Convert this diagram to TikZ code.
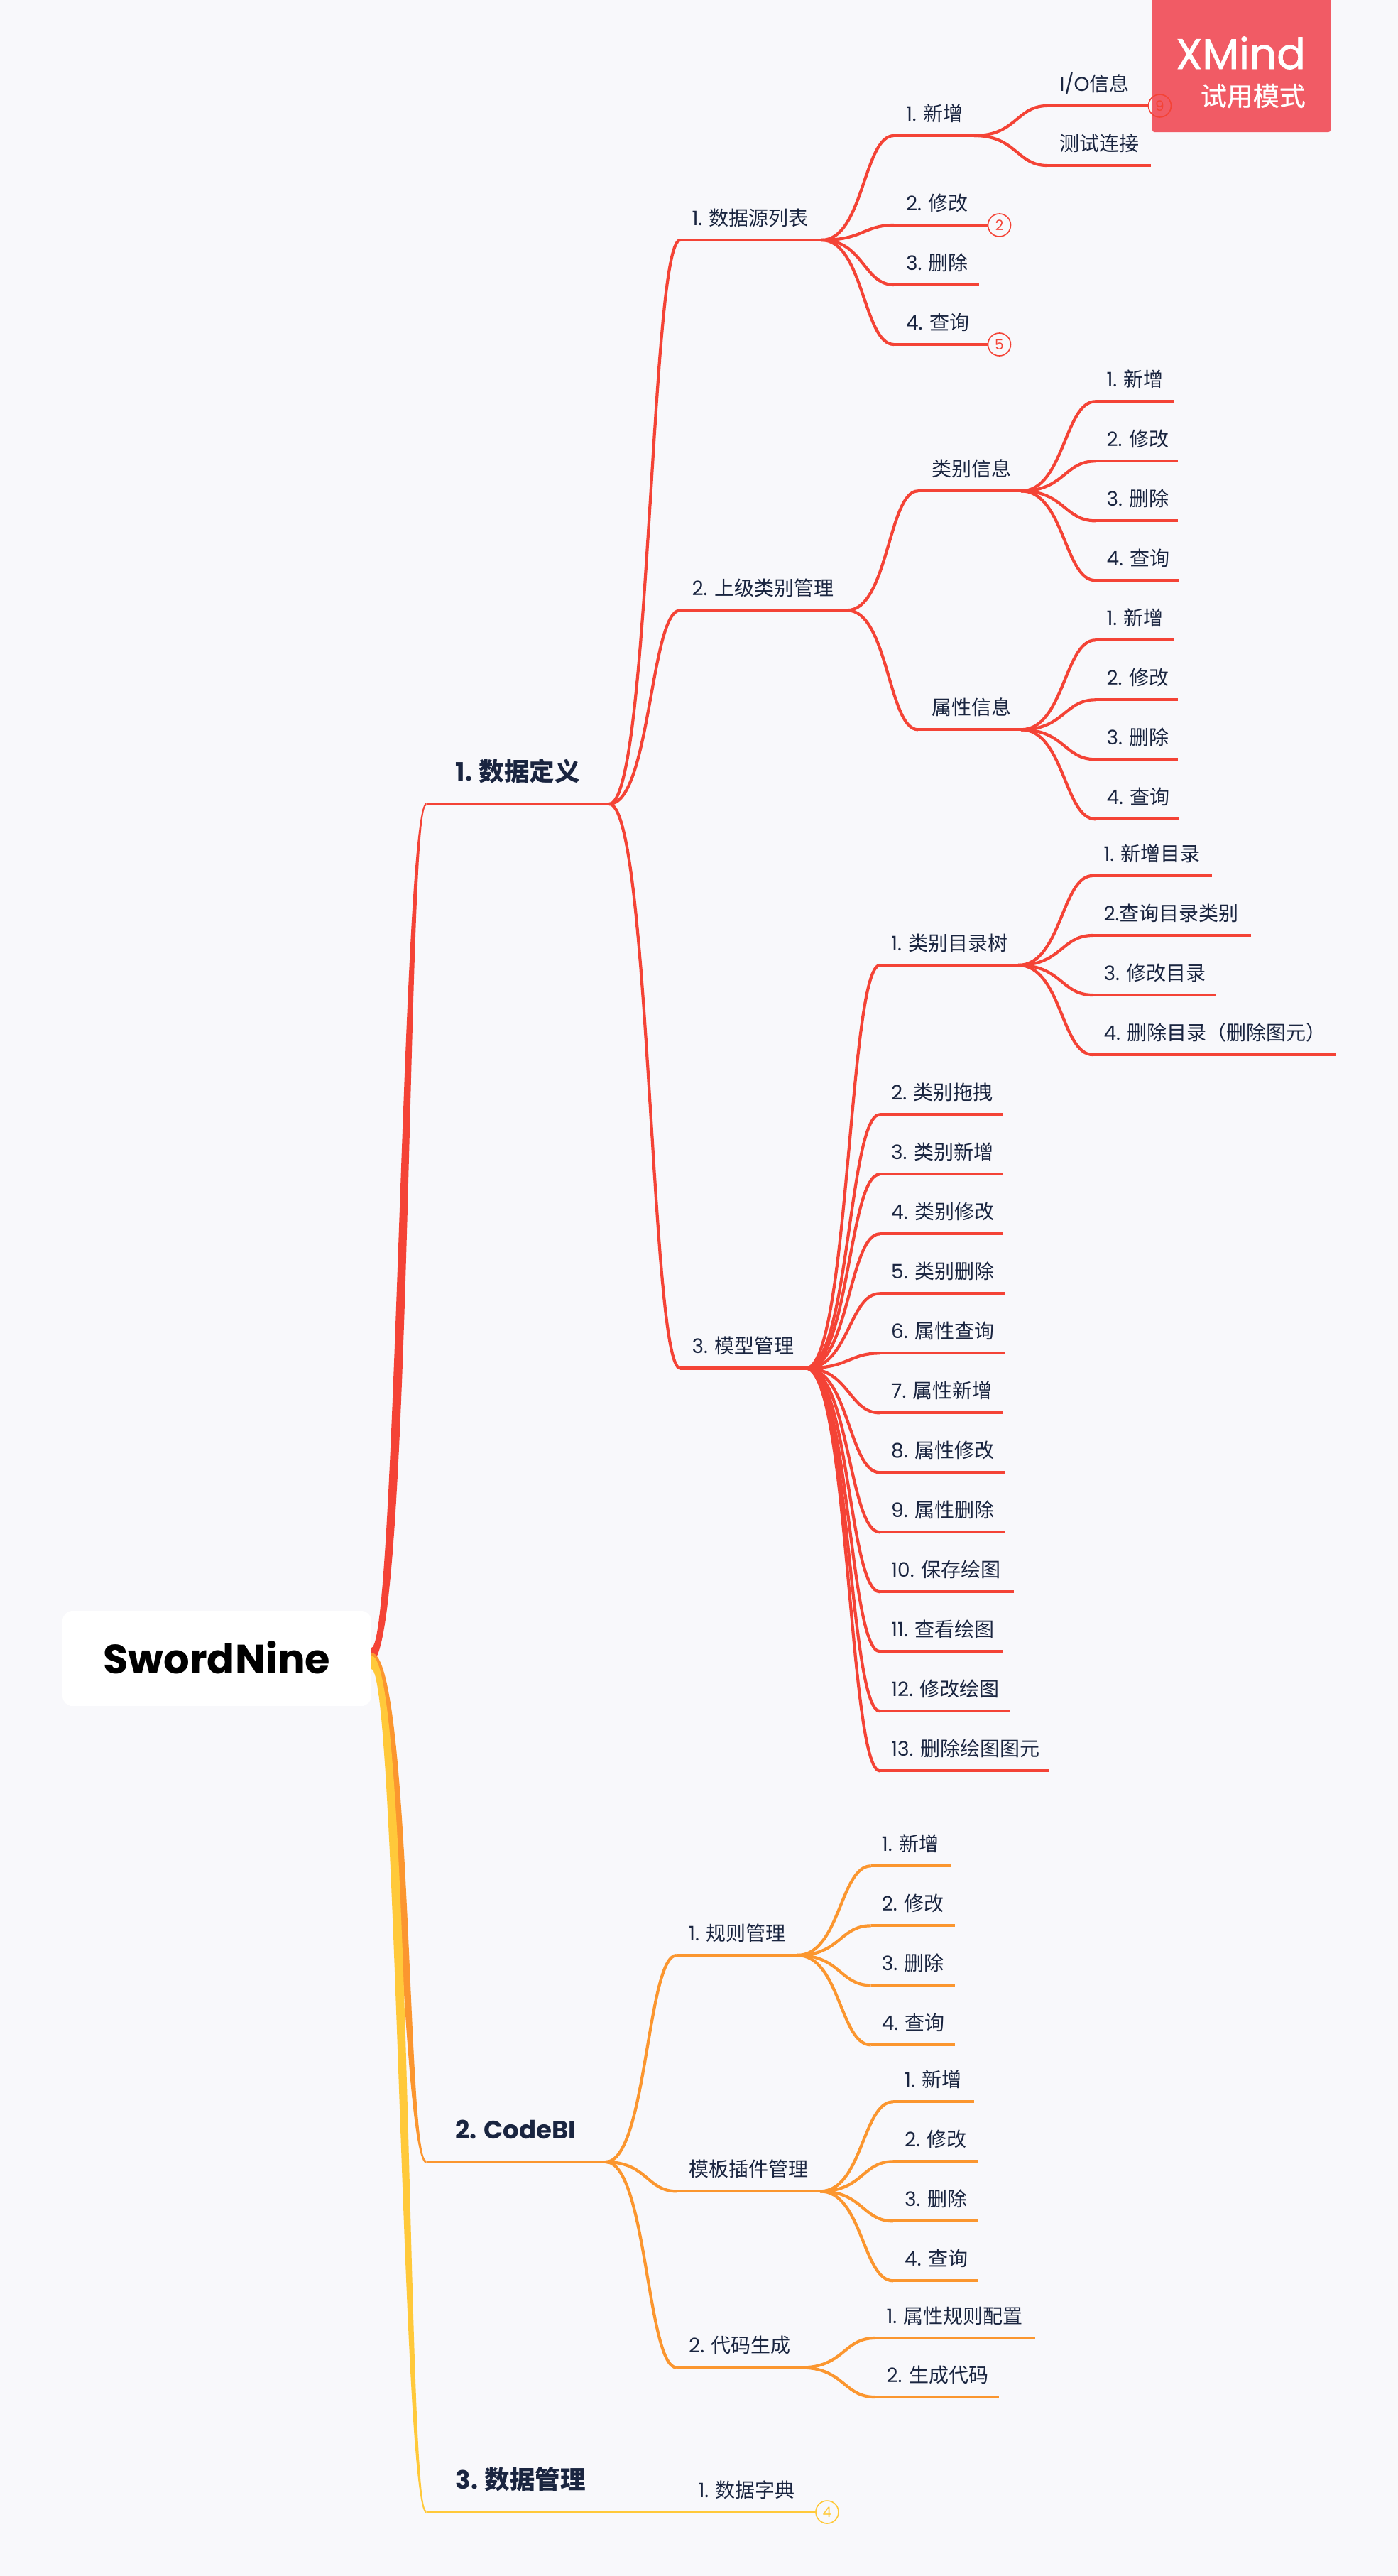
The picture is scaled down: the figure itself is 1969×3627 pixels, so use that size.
\documentclass[tikz,border=0pt]{standalone}
\usepackage{fontspec}
\usetikzlibrary{calc}
\setmainfont{Noto Sans CJK SC}
\newfontfamily\lat[WordSpace=0.95]{Poppins}
\newfontfamily\latm[FakeBold=1.2]{Poppins}
\newfontfamily\cjkm[FakeBold=0.6]{Noto Sans CJK SC}
\newcommand{\lf}[1]{{\lat #1}}
\definecolor{bgc}{HTML}{F8F8FB}
\definecolor{inkc}{HTML}{1A2540}
\definecolor{redb}{HTML}{F44336}
\definecolor{orab}{HTML}{FB962F}
\definecolor{yelb}{HTML}{FFC93A}
\definecolor{wmk}{HTML}{F15B65}
\colorlet{br}{redb}
\tikzset{
  lab/.style={anchor=base west,inner sep=0pt,outer sep=0pt,text=inkc,font=\fontsize{28}{32}\selectfont},
  labone/.style={anchor=base west,inner sep=0pt,outer sep=0pt,text=inkc,font=\fontsize{35.5}{40}\selectfont\bfseries},
  rootbox/.style={fill=white,rounded corners=14pt,minimum width=435pt,minimum height=134pt,inner sep=0pt,outer sep=0pt,font=\fontsize{57.5}{64}\selectfont\lat\bfseries,text=black},
  curve/.style={draw=br,line width=4.2pt},
  bar/.style={draw=br,line width=4.2pt},
  badge/.style={circle,draw=br,line width=1.6pt,minimum size=32pt,inner sep=0pt,outer sep=0pt,anchor=west,text=br,font=\fontsize{20}{22}\selectfont\lat}
}
% name, xstart, xend, y, label x, text
\newcommand{\tp}[6]{%
  \coordinate (#1-s) at (#2,#4);
  \coordinate (#1-e) at (#3,#4);
  \node[lab] (#1) at (#5-1.5,#4-21) {#6};
}
\newcommand{\tpone}[6]{%
  \coordinate (#1-s) at (#2,#4);
  \coordinate (#1-e) at (#3,#4);
  \node[labone] (#1) at (#5,#4-33) {#6};
}
\newcommand{\lnk}[2]{%
  \coordinate (mid) at ($(#1-e)!.58!(#2-s)$);
  \draw[curve] (#1-e) .. controls (mid |- #1-e) and (mid |- #2-s) .. (#2-s);
  \draw[bar] (#2-s) -- (#2-e);
}
% colour, target, upper start, lower start, a1, a2
\newcommand{\taper}[6]{%
  \fill[#1] let \p1=(#2-s), \p2=(#3), \p3=(#4) in
    (\p2) .. controls ({\x2+0.6*(\x1-\x2)-(#5)*1pt},\y2) and ({\x2+0.6*(\x1-\x2)-(#6)*1pt},{\y1+2pt}) .. ({\x1},{\y1+2pt})
    -- ({\x1},{\y1-2pt})
    .. controls ({\x2+0.6*(\x1-\x2)+(#6)*1pt},{\y1-2pt}) and ({\x2+0.6*(\x1-\x2)+(#5)*1pt},\y3) .. (\p3) -- cycle;
  \draw[#1,line width=4.2pt] (#2-s) -- (#2-e);
}
\begin{document}
\begin{tikzpicture}[x=1pt,y=-1pt]
\useasboundingbox (0,0) rectangle (1969,3627);
\fill[bgc] (0,0) rectangle (1969,3627);

\node[rootbox] (root) at (305.5,2335) {\raisebox{3pt}{SwordNine}};
\coordinate (rt) at (523,2320); \coordinate (rb) at (523,2340);
\coordinate (ot) at (523,2327); \coordinate (ob) at (523,2346);
\coordinate (yt) at (523,2331); \coordinate (yb) at (523,2350);

% ---------- red branch
\colorlet{br}{redb}
\tpone{a}{600.5}{858}{1132}{641.7}{\lf{\bfseries 1. }数据定义}
\tp{a1}{958}{1157}{338}{976}{\lf{1. }数据源列表}
\tp{a2}{958}{1193}{859.3}{976}{\lf{2. }上级类别管理}
\tp{a3}{958}{1135}{1926.5}{976}{\lf{3. }模型管理}
\tp{a1a}{1259}{1372}{191}{1277.5}{\lf{1. }新增}
\tp{a1a1}{1475}{1617.5}{149}{1494}{\lf{I/O}信息}
\tp{a1a2}{1475}{1621}{233}{1494}{测试连接}
\tp{a1b}{1259}{1391.5}{317}{1277.5}{\lf{2. }修改}
\tp{a1c}{1259}{1379}{401}{1277.5}{\lf{3. }删除}
\tp{a1d}{1259}{1391.5}{485}{1277.5}{\lf{4. }查询}
\tp{a2a}{1293}{1438}{691.3}{1313.5}{类别信息}
\tp{a2b}{1293}{1438}{1027.3}{1313.5}{属性信息}
\tp{a2a1}{1543}{1654}{565.3}{1560}{\lf{1. }新增}
\tp{a2a2}{1543}{1659}{649.3}{1560}{\lf{2. }修改}
\tp{a2a3}{1543}{1659}{733.3}{1560}{\lf{3. }删除}
\tp{a2a4}{1543}{1661}{817.3}{1560}{\lf{4. }查询}
\tp{a2b1}{1543}{1654}{901.3}{1560}{\lf{1. }新增}
\tp{a2b2}{1543}{1659}{985.3}{1560}{\lf{2. }修改}
\tp{a2b3}{1543}{1659}{1069.3}{1560}{\lf{3. }删除}
\tp{a2b4}{1543}{1661}{1153.3}{1560}{\lf{4. }查询}
\tp{t1}{1239.3}{1434}{1359}{1256.7}{\lf{1. }类别目录树}
\tp{t1a}{1539}{1707}{1233}{1556}{\lf{1. }新增目录}
\tp{t1b}{1539}{1762}{1317}{1556}{\lf{2.}查询目录类别}
\tp{t1c}{1539}{1713}{1401}{1556}{\lf{3. }修改目录}
\tp{t1d}{1539}{1882}{1485}{1556}{\lf{4. }删除目录（删除图元）}
\tp{t2}{1239.3}{1413.3}{1569.3}{1256.7}{\lf{2. }类别拖拽}
\tp{t3}{1239.3}{1413.3}{1653.3}{1256.7}{\lf{3. }类别新增}
\tp{t4}{1239.3}{1413.3}{1737.3}{1256.7}{\lf{4. }类别修改}
\tp{t5}{1239.3}{1415.3}{1821.3}{1256.7}{\lf{5. }类别删除}
\tp{t6}{1239.3}{1415.3}{1905.3}{1256.7}{\lf{6. }属性查询}
\tp{t7}{1239.3}{1413.3}{1989.3}{1256.7}{\lf{7. }属性新增}
\tp{t8}{1239.3}{1415.3}{2073.3}{1256.7}{\lf{8. }属性修改}
\tp{t9}{1239.3}{1415.3}{2157.3}{1256.7}{\lf{9. }属性删除}
\tp{t10}{1239.3}{1427.6}{2241.3}{1256.7}{\lf{10. }保存绘图}
\tp{t11}{1239.3}{1413.3}{2325.3}{1256.7}{\lf{11. }查看绘图}
\tp{t12}{1239.3}{1423}{2409.3}{1256.7}{\lf{12. }修改绘图}
\tp{t13}{1239.3}{1478}{2493.3}{1256.7}{\lf{13. }删除绘图图元}

\taper{redb}{a}{rt}{rb}{11}{3.5}
\foreach \c in {a1,a2,a3}{\lnk{a}{\c}}
\foreach \c in {a1a,a1b,a1c,a1d}{\lnk{a1}{\c}}
\foreach \c in {a1a1,a1a2}{\lnk{a1a}{\c}}
\foreach \c in {a2a,a2b}{\lnk{a2}{\c}}
\foreach \c in {a2a1,a2a2,a2a3,a2a4}{\lnk{a2a}{\c}}
\foreach \c in {a2b1,a2b2,a2b3,a2b4}{\lnk{a2b}{\c}}
\foreach \c in {t1,t2,t3,t4,t5,t6,t7,t8,t9,t10,t11,t12,t13}{\lnk{a3}{\c}}
\foreach \c in {t1a,t1b,t1c,t1d}{\lnk{t1}{\c}}

\node[badge] (bb) at (a1b-e) {2};
\node[badge] (bd) at (a1d-e) {5};

% ---------- watermark
\fill[wmk,rounded corners=3pt] (1623,-10) rectangle (1874,186);
\node[anchor=base east,inner sep=0pt,text=white,font=\fontsize{60}{64}\selectfont\latm] (wm1) at (1839,97) {XMind};
\node[anchor=base east,inner sep=0pt,text=white,font=\fontsize{37}{40}\selectfont\cjkm] (wm2) at (1839,149) {试用模式};
\node[badge] (ba) at (a1a1-e) {9};

% ---------- orange branch
\colorlet{br}{orab}
\tpone{b}{600.5}{853}{3044}{641.7}{\lf{\bfseries 2. CodeBI}}
\tp{b1}{953}{1122.7}{2753}{971.7}{\lf{1. }规则管理}
\tp{b2}{953}{1155}{3085.3}{971.7}{模板插件管理}
\tp{b3}{953}{1128}{3333.5}{971.7}{\lf{2. }代码生成}
\tp{b1a}{1226.7}{1339.3}{2627.3}{1243.3}{\lf{1. }新增}
\tp{b1b}{1226.7}{1345}{2711.3}{1243.3}{\lf{2. }修改}
\tp{b1c}{1226.7}{1345}{2795.3}{1243.3}{\lf{3. }删除}
\tp{b1d}{1226.7}{1345}{2879.3}{1243.3}{\lf{4. }查询}
\tp{b2a}{1258}{1371.7}{2959.3}{1275.7}{\lf{1. }新增}
\tp{b2b}{1258}{1377.3}{3043.3}{1275.7}{\lf{2. }修改}
\tp{b2c}{1258}{1377.3}{3127.3}{1275.7}{\lf{3. }删除}
\tp{b2d}{1258}{1377.3}{3211.3}{1275.7}{\lf{4. }查询}
\tp{b3a}{1232}{1458}{3292}{1250}{\lf{1. }属性规则配置}
\tp{b3b}{1232}{1407}{3375}{1250}{\lf{2. }生成代码}
\taper{orab}{b}{ot}{ob}{-11}{-3.5}
\foreach \c in {b1,b2,b3}{\lnk{b}{\c}}
\foreach \c in {b1a,b1b,b1c,b1d}{\lnk{b1}{\c}}
\foreach \c in {b2a,b2b,b2c,b2d}{\lnk{b2}{\c}}
\foreach \c in {b3a,b3b}{\lnk{b3}{\c}}

% ---------- yellow branch
\colorlet{br}{yelb}
\tpone{c}{600.5}{880}{3537}{641.7}{\lf{\bfseries 3. }数据管理}
\tp{c1}{880}{1149}{3537}{985}{\lf{1. }数据字典}
\taper{yelb}{c}{yt}{yb}{-11}{-3.5}
\draw[bar] (c-e) -- (c1-e);
\node[badge] (bc) at (c1-e) {4};
\end{tikzpicture}
\end{document}
